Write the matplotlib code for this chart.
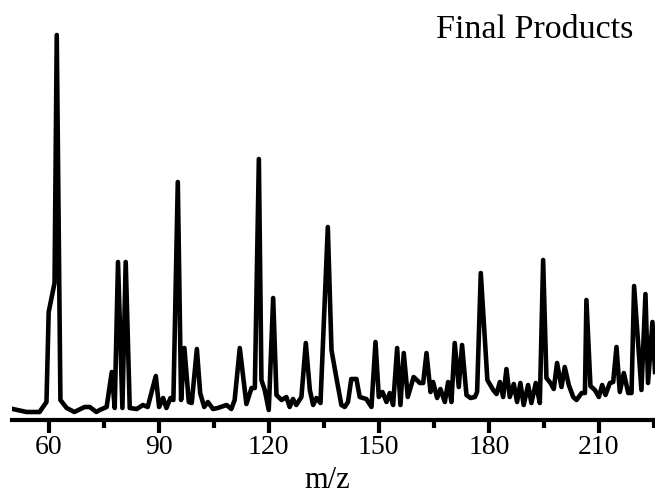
import numpy as np
import matplotlib
matplotlib.use('Agg')
import matplotlib.pyplot as plt

# mass spectrum, final products (intensity in arbitrary units)
mz = [50.2, 54, 57.5, 59.4, 60, 61.6, 62.2, 63.2, 64.9, 67, 69.8, 71.2, 73, 73.9,
      75.8, 77.2, 78, 78.9, 80.1, 81, 82.1, 84, 85.7, 87, 89.2, 90.1, 91.2, 92.1,
      93.2, 94.0, 95.2, 96.1, 97, 98.2, 99, 100.4, 101.3, 102.4, 103.4, 104.8,
      106.1, 108.5, 109.8, 110.7, 112.1, 113.9, 115.3, 116.2, 117.3, 118, 118.9,
      120, 121.2, 122.1, 123.5, 124.8, 125.7, 126.6, 127.5, 128.9, 130.1, 131.2,
      132.1, 133, 134.1, 136.1, 137.1, 138.4, 139.8, 140.7, 141.6, 142.5, 143.9,
      144.8, 146.6, 148, 149.1, 150, 151, 152.1, 153, 153.9, 155, 155.9, 156.8,
      157.9, 159.5, 161.2, 162.1, 163, 164.1, 164.8, 165.9, 166.8, 168, 168.9,
      169.8, 170.7, 171.8, 172.7, 173.9, 175, 176.2, 176.8, 177.8, 179.6, 181.2,
      182.1, 183, 183.9, 184.8, 185.7, 186.8, 187.7, 188.6, 189.5, 190.7, 191.6,
      192.8, 193.9, 194.8, 195.7, 196.8, 197.7, 198.6, 199.8, 200.7, 201.8, 203,
      203.9, 205.3, 206.2, 206.6, 207.7, 208.9, 210, 210.9, 211.8, 213, 213.9,
      214.8, 215.7, 216.8, 218, 218.9, 219.6, 221.6, 222.7, 223.4, 224.6, 225.3]
intensity = [3, 0, 0, 10, 100, 129, 377, 12, 4, 0, 5, 5, 0, 2,
             5, 40, 4, 150, 4, 150, 4, 3, 7, 5, 36, 5, 14, 4,
             14, 12, 230, 12, 64, 10, 9, 63, 19, 5, 10, 3,
             4, 7, 3, 12, 64, 8, 24, 24, 253, 32, 22,
             2, 114, 17, 12, 15, 5, 13, 7, 15, 69, 22,
             7, 14, 9, 185, 62, 35, 7, 5, 10, 33, 33,
             15, 13, 5, 70, 15, 20, 10, 19, 7, 64, 7, 59,
             15, 35, 29, 29, 59, 20, 30, 14, 23, 10, 30,
             10, 69, 25, 67, 17, 14, 15, 20, 139, 32, 22,
             18, 30, 15, 43, 15, 28, 10, 29, 7, 27, 9,
             29, 9, 152, 34, 29, 23, 49, 25, 45, 27, 15,
             12, 19, 19, 112, 26, 22, 15, 27, 17, 29, 30,
             65, 20, 39, 19, 19, 126, 22, 118, 29, 90, 40]

major_ticks = [60, 90, 120, 150, 180, 210]
minor_ticks = [75, 105, 135, 165, 195, 225]

plt.rcParams['font.family'] = ['Liberation Serif', 'DejaVu Serif']

fig = plt.figure(figsize=(6.55, 4.96), dpi=100)
ax = fig.add_axes([12 / 655, 76 / 496, 643 / 655, 420 / 496])

ax.plot(mz, intensity, color='black', linewidth=3.3)

ax.set_xlim(50, 225.3)
ax.set_ylim(-8, 412)

# only the bottom axis is shown
for side in ['left', 'right', 'top']:
    ax.spines[side].set_visible(False)
ax.spines['bottom'].set_linewidth(3)
ax.set_yticks([])

ax.set_xticks(major_ticks)
ax.set_xticks(minor_ticks, minor=True)
ax.tick_params(axis='x', which='major', length=9.5, width=3, pad=1, labelsize=20)
ax.tick_params(axis='x', which='minor', length=6, width=3)

fig.text(0.5, 1 - 488 / 496, 'm/z', ha='center', va='baseline', fontsize=22)
fig.text(633 / 655, 1 - 38 / 496, 'Final Products', ha='right', va='baseline', fontsize=24.5)

fig.savefig('out.png', dpi=100)
